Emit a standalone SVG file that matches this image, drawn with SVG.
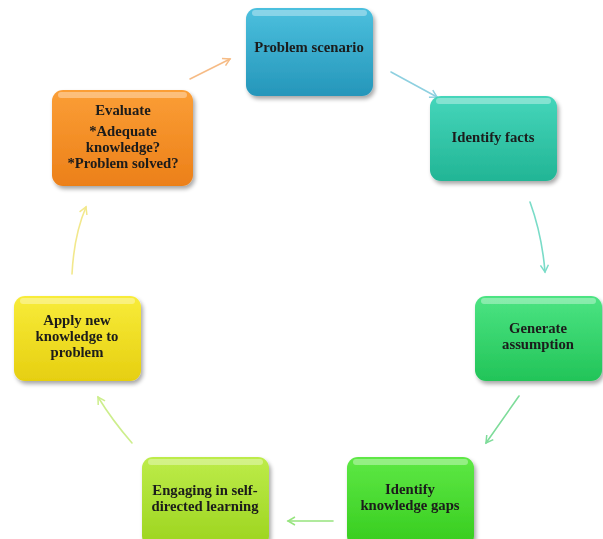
<svg xmlns="http://www.w3.org/2000/svg" width="603" height="539" viewBox="0 0 603 539">
<defs>
<style>
.lbl{font-family:"Liberation Serif","Times New Roman",serif;font-weight:bold;font-size:14.7px;fill:#1a1a1a;text-anchor:middle}
.hl{fill:#ffffff;opacity:0.35}
.edge{fill:none;stroke-width:1.6;stroke-linecap:round}
</style>
<filter id="sh" x="-10%" y="-10%" width="125%" height="130%">
<feGaussianBlur in="SourceAlpha" stdDeviation="2"/>
<feOffset dx="2" dy="3"/>
<feComponentTransfer><feFuncA type="linear" slope="0.35"/></feComponentTransfer>
<feMerge><feMergeNode/><feMergeNode in="SourceGraphic"/></feMerge>
</filter>
<linearGradient id="gBlue" x1="0" y1="0" x2="0" y2="1"><stop offset="0" stop-color="#4CC0DE"/><stop offset="1" stop-color="#2596BA"/></linearGradient>
<linearGradient id="gTeal" x1="0" y1="0" x2="0" y2="1"><stop offset="0" stop-color="#45D6BB"/><stop offset="1" stop-color="#22B595"/></linearGradient>
<linearGradient id="gGreen" x1="0" y1="0" x2="0" y2="1"><stop offset="0" stop-color="#4CE483"/><stop offset="1" stop-color="#22C458"/></linearGradient>
<linearGradient id="gLime" x1="0" y1="0" x2="0" y2="1"><stop offset="0" stop-color="#5EE845"/><stop offset="1" stop-color="#36CC1E"/></linearGradient>
<linearGradient id="gYG" x1="0" y1="0" x2="0" y2="1"><stop offset="0" stop-color="#BDEC4A"/><stop offset="1" stop-color="#9CD41E"/></linearGradient>
<linearGradient id="gYel" x1="0" y1="0" x2="0" y2="1"><stop offset="0" stop-color="#F8EC3A"/><stop offset="1" stop-color="#E6CF10"/></linearGradient>
<linearGradient id="gOr" x1="0" y1="0" x2="0" y2="1"><stop offset="0" stop-color="#FB9E36"/><stop offset="1" stop-color="#EC8019"/></linearGradient>
<marker id="aBlue" markerWidth="10" markerHeight="10" refX="8" refY="5" orient="auto" markerUnits="userSpaceOnUse"><path d="M1,1 L8,5 L1,9" fill="none" stroke="#8ED0E0" stroke-width="1.5"/></marker>
<marker id="aTeal" markerWidth="10" markerHeight="10" refX="8" refY="5" orient="auto" markerUnits="userSpaceOnUse"><path d="M1,1 L8,5 L1,9" fill="none" stroke="#7ADCC8" stroke-width="1.5"/></marker>
<marker id="aGreen" markerWidth="10" markerHeight="10" refX="8" refY="5" orient="auto" markerUnits="userSpaceOnUse"><path d="M1,1 L8,5 L1,9" fill="none" stroke="#7EDC9A" stroke-width="1.5"/></marker>
<marker id="aLime" markerWidth="10" markerHeight="10" refX="8" refY="5" orient="auto" markerUnits="userSpaceOnUse"><path d="M1,1 L8,5 L1,9" fill="none" stroke="#96E47E" stroke-width="1.5"/></marker>
<marker id="aYG" markerWidth="10" markerHeight="10" refX="8" refY="5" orient="auto" markerUnits="userSpaceOnUse"><path d="M1,1 L8,5 L1,9" fill="none" stroke="#CDEE8C" stroke-width="1.5"/></marker>
<marker id="aYel" markerWidth="10" markerHeight="10" refX="8" refY="5" orient="auto" markerUnits="userSpaceOnUse"><path d="M1,1 L8,5 L1,9" fill="none" stroke="#F2E88C" stroke-width="1.5"/></marker>
<marker id="aOr" markerWidth="10" markerHeight="10" refX="8" refY="5" orient="auto" markerUnits="userSpaceOnUse"><path d="M1,1 L8,5 L1,9" fill="none" stroke="#F6BC86" stroke-width="1.5"/></marker>
</defs>
<rect width="603" height="539" fill="#ffffff"/>

<g id="connectors">
<path class="edge" d="M190,79 L230,59" stroke="#F6BC86" marker-end="url(#aOr)"/>
<path class="edge" d="M391,72 L437,97" stroke="#8ED0E0" marker-end="url(#aBlue)"/>
<path class="edge" d="M530,202 Q542,235 545,272" stroke="#7ADCC8" marker-end="url(#aTeal)"/>
<path class="edge" d="M519,396 L486,443" stroke="#7EDC9A" marker-end="url(#aGreen)"/>
<path class="edge" d="M333,521 L288,521" stroke="#96E47E" marker-end="url(#aLime)"/>
<path class="edge" d="M132,443 Q112,420 98,397" stroke="#CDEE8C" marker-end="url(#aYG)"/>
<path class="edge" d="M72,274 Q74,235 86,207" stroke="#F2E88C" marker-end="url(#aYel)"/>
</g>

<g id="problem-scenario" filter="url(#sh)">
<rect x="246" y="8" width="127" height="88" rx="11" fill="url(#gBlue)"/>
<rect x="252" y="10" width="115" height="6" rx="3" class="hl"/>
<text class="lbl" x="309" y="52">Problem scenario</text>
</g>

<g id="identify-facts" filter="url(#sh)">
<rect x="430" y="96" width="127" height="85" rx="11" fill="url(#gTeal)"/>
<rect x="436" y="98" width="115" height="6" rx="3" class="hl"/>
<text class="lbl" x="493" y="142">Identify facts</text>
</g>

<g id="generate-assumption" filter="url(#sh)">
<rect x="475" y="296" width="127" height="85" rx="11" fill="url(#gGreen)"/>
<rect x="481" y="298" width="115" height="6" rx="3" class="hl"/>
<text class="lbl" x="538" y="333">Generate</text>
<text class="lbl" x="538" y="349">assumption</text>
</g>

<g id="identify-knowledge-gaps" filter="url(#sh)">
<rect x="347" y="457" width="127" height="90" rx="11" fill="url(#gLime)"/>
<rect x="353" y="459" width="115" height="6" rx="3" class="hl"/>
<text class="lbl" x="410" y="494">Identify</text>
<text class="lbl" x="410" y="510">knowledge gaps</text>
</g>

<g id="engaging-self-directed" filter="url(#sh)">
<rect x="142" y="457" width="127" height="90" rx="11" fill="url(#gYG)"/>
<rect x="148" y="459" width="115" height="6" rx="3" class="hl"/>
<text class="lbl" x="205" y="495">Engaging in self-</text>
<text class="lbl" x="205" y="511">directed learning</text>
</g>

<g id="apply-new-knowledge" filter="url(#sh)">
<rect x="14" y="296" width="127" height="85" rx="11" fill="url(#gYel)"/>
<rect x="20" y="298" width="115" height="6" rx="3" class="hl"/>
<text class="lbl" x="77" y="325">Apply new</text>
<text class="lbl" x="77" y="341">knowledge to</text>
<text class="lbl" x="77" y="357">problem</text>
</g>

<g id="evaluate" filter="url(#sh)">
<rect x="52" y="90" width="141" height="96" rx="11" fill="url(#gOr)"/>
<rect x="58" y="92" width="129" height="6" rx="3" class="hl"/>
<text class="lbl" x="123" y="115">Evaluate</text>
<text class="lbl" x="123" y="136">*Adequate</text>
<text class="lbl" x="123" y="152">knowledge?</text>
<text class="lbl" x="123" y="168">*Problem solved?</text>
</g>
</svg>
